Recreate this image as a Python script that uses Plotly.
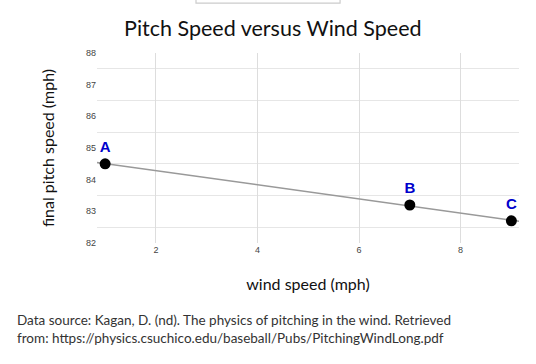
import numpy as np
import plotly.graph_objects as go

# Data
wind_speed = [1, 7, 9]
pitch_speed = [84.5, 83.2, 82.7]
point_labels = ["A", "B", "C"]
x_ticks = [2, 4, 6, 8]
y_ticks = [82, 83, 84, 85, 86, 87, 88]

x_range = [0.84, 9.15]
y_range = [82, 88]

# Linear trend across the axis range
coef = np.polyfit(wind_speed, pitch_speed, 1)
line_x = np.array(x_range)
line_y = np.polyval(coef, line_x)

fig = go.Figure()
fig.add_trace(go.Scatter(
    x=line_x, y=line_y, mode="lines",
    line=dict(color="#999999", width=1.5),
    hoverinfo="skip", showlegend=False,
))
fig.add_trace(go.Scatter(
    x=wind_speed, y=pitch_speed, mode="markers+text",
    marker=dict(color="black", size=11),
    text=point_labels, textposition="top center",
    textfont=dict(family="Arial", size=15, color="#0000cc", weight="bold"),
    showlegend=False, cliponaxis=False,
))

fig.update_layout(
    width=536, height=364,
    margin=dict(l=97, r=17, t=53, b=121),
    paper_bgcolor="white", plot_bgcolor="white",
    title=dict(
        text="Pitch Speed versus Wind Speed",
        x=0.509, xref="container", xanchor="center",
        y=1 - 28 / 364, yref="container", yanchor="middle",
        font=dict(family="Lato", size=21.5, color="#111111"),
    ),
    xaxis=dict(
        range=x_range, tickvals=x_ticks, showgrid=True,
        gridcolor="#dddddd", gridwidth=1, zeroline=False, showline=False,
        tickfont=dict(family="Arial", size=9, color="#444444"),
        title=dict(text="wind speed (mph)", standoff=24,
                   font=dict(family="Lato", size=16, color="#111111")),
    ),
    yaxis=dict(
        range=y_range, tickvals=y_ticks, showgrid=False,
        zeroline=False, showline=False,
        minor=dict(tick0=82.5, dtick=1, showgrid=True, gridcolor="#e6e6e6",
                   gridwidth=1, ticklen=0),
        tickfont=dict(family="Arial", size=9, color="#444444"),
        title=dict(text="final pitch speed (mph)", standoff=27,
                   font=dict(family="Lato", size=16, color="#111111")),
    ),
    annotations=[dict(
        text="Data source: Kagan, D. (nd). The physics of pitching in the wind. Retrieved<br>"
             "from: https://physics.csuchico.edu/baseball/Pubs/PitchingWindLong.pdf",
        xref="paper", yref="paper", x=-0.1943, y=-0.452,
        xanchor="left", yanchor="middle", align="left", showarrow=False,
        font=dict(family="Lato", size=13.5, color="#333333"),
    )],
    shapes=[dict(
        type="rect", xref="paper", yref="paper", layer="above",
        x0=0.2346, x1=0.576, y0=1.262, y1=1.30,
        line=dict(color="#cccccc", width=1.2), fillcolor="rgba(0,0,0,0)",
    )],
)

fig.write_html("out.html", config={"displayModeBar": False},
               post_script="document.body.style.margin='0';")
